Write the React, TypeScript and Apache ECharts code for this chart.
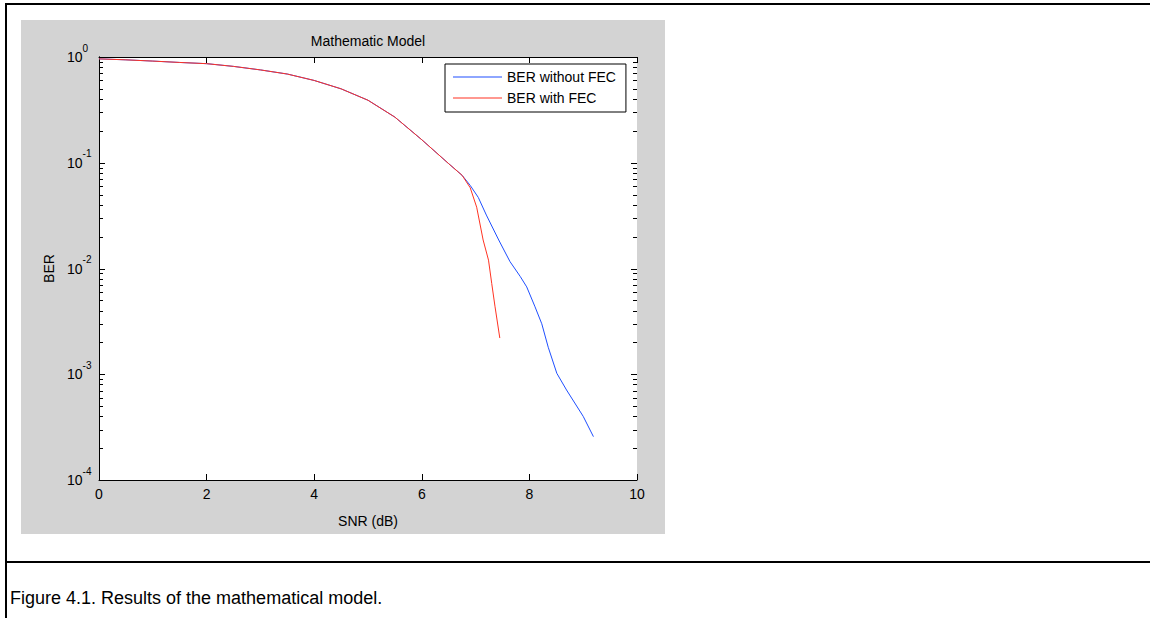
import React, { useEffect, useRef } from "react";
import * as echarts from "echarts";

// SNR (dB) and BER values
const snrWithout = [0, 0.5, 1.0, 1.5, 2.0, 2.5, 3.0, 3.5, 4.0, 4.5, 5.0, 5.5, 6.0, 6.5, 6.75, 6.9, 7.05, 7.2, 7.43, 7.64, 7.83, 7.95, 8.1, 8.23, 8.35, 8.51, 8.69, 9.0, 9.19];
const berWithout = [0.96, 0.94, 0.915, 0.888, 0.865, 0.815, 0.755, 0.69, 0.6, 0.5, 0.39, 0.27, 0.165, 0.098, 0.076, 0.061, 0.047, 0.032, 0.0186, 0.0116, 0.0084, 0.0067, 0.0044, 0.003, 0.0018, 0.00102, 0.00071, 0.0004, 0.000257];
const snrWith = [0, 0.5, 1.0, 1.5, 2.0, 2.5, 3.0, 3.5, 4.0, 4.5, 5.0, 5.5, 6.0, 6.5, 6.75, 6.9, 7.02, 7.14, 7.24, 7.3, 7.36, 7.45];
const berWith = [0.96, 0.94, 0.915, 0.888, 0.865, 0.815, 0.755, 0.69, 0.6, 0.5, 0.39, 0.27, 0.165, 0.098, 0.076, 0.058, 0.038, 0.0186, 0.012, 0.0072, 0.0044, 0.0022];

const seriesNames = ["BER without FEC", "BER with FEC"];
const yMajorTicks = [1e-4, 1e-3, 1e-2, 1e-1, 1];
const yMinorTicks = [
  2e-4, 3e-4, 4e-4, 5e-4, 6e-4, 7e-4, 8e-4, 9e-4,
  2e-3, 3e-3, 4e-3, 5e-3, 6e-3, 7e-3, 8e-3, 9e-3,
  2e-2, 3e-2, 4e-2, 5e-2, 6e-2, 7e-2, 8e-2, 9e-2,
  2e-1, 3e-1, 4e-1, 5e-1, 6e-1, 7e-1, 8e-1, 9e-1,
];
const xMin = 0;
const xMax = 10;
const titleText = "Mathematic Model";
const xName = "SNR (dB)";
const yName = "BER";
const captionText = "Figure 4.1. Results of the mathematical model.";

const FONT = "'Liberation Sans', Arial, Helvetica, sans-serif";

export default function App() {
  const ref = useRef<HTMLDivElement>(null);
  useEffect(() => {
    const chart = echarts.init(ref.current as HTMLDivElement, null, { renderer: "svg" });
    const pairs = (xs: number[], ys: number[]) => xs.map((x, i) => [x, ys[i]]);
    const tickLine = { lineStyle: { color: "#000", width: 1 } };
    const tickData = [
      ...yMajorTicks.map((v) => [xMin, v, 6]),
      ...yMinorTicks.map((v) => [xMin, v, 4]),
    ];
    const yBase = (position: string, labels: boolean) => ({
      type: "log",
      logBase: 10,
      min: 1e-4,
      max: 1,
      position,
      axisLine: { show: true, lineStyle: { color: "#000", width: 1 } },
      axisTick: { show: false },
      splitLine: { show: false },
      minorTick: { show: false },
      axisLabel: labels
        ? {
            show: true,
            customValues: yMajorTicks,
            align: "left",
            margin: 32,
            color: "#000",
            fontSize: 14,
            fontFamily: FONT,
            formatter: (v: number) => `{b|10}{s|${Math.round(Math.log10(v))}}`,
            rich: {
              b: { fontSize: 14, lineHeight: 28, fontFamily: FONT, color: "#000" },
              s: { fontSize: 10, lineHeight: 10, verticalAlign: "top", fontFamily: FONT, color: "#000" },
            },
          }
        : { show: false },
    });
    const option: any = {
      animation: false,
      backgroundColor: "#fff",
      textStyle: { fontFamily: FONT },
      graphic: [
        { type: "rect", z: -100, shape: { x: 21, y: 20, width: 644, height: 514 }, style: { fill: "#d3d3d3" } },
        { type: "line", shape: { x1: 5, y1: 4, x2: 1150, y2: 4 }, style: { stroke: "#000", lineWidth: 2 } },
        { type: "line", shape: { x1: 6, y1: 3, x2: 6, y2: 618 }, style: { stroke: "#000", lineWidth: 2 } },
        { type: "line", shape: { x1: 5, y1: 562, x2: 1150, y2: 562 }, style: { stroke: "#000", lineWidth: 2 } },
        {
          type: "text",
          x: 10,
          y: 598,
          style: { text: captionText, fill: "#000", font: `18px ${FONT}`, verticalAlign: "middle", align: "left" },
        },
      ],
      title: {
        text: titleText,
        left: 368,
        top: 34,
        textAlign: "center",
        padding: 0,
        textStyle: { fontSize: 14, fontWeight: "normal", color: "#000", fontFamily: FONT },
      },
      legend: {
        data: seriesNames,
        orient: "vertical",
        left: 445,
        top: 64,
        padding: [6, 10, 7, 8],
        itemGap: 7,
        itemWidth: 49,
        itemHeight: 1,
        icon: "rect",
        backgroundColor: "#fff",
        borderColor: "#000",
        borderWidth: 1,
        borderRadius: 0,
        textStyle: { fontSize: 14, lineHeight: 14, color: "#000", fontFamily: FONT },
      },
      grid: {
        left: 99,
        top: 57,
        width: 538,
        height: 423,
        show: true,
        backgroundColor: "#fff",
        borderWidth: 0,
        containLabel: false,
      },
      xAxis: [
        {
          type: "value",
          min: xMin,
          max: xMax,
          interval: 2,
          position: "bottom",
          name: xName,
          nameLocation: "middle",
          nameGap: 34,
          nameTextStyle: { fontSize: 14, color: "#000", fontFamily: FONT },
          axisLine: { show: true, lineStyle: { color: "#000", width: 1 } },
          axisTick: { show: true, inside: true, length: 6, ...tickLine },
          splitLine: { show: false },
          axisLabel: { show: true, margin: 7, color: "#000", fontSize: 14, fontFamily: FONT },
        },
        {
          type: "value",
          min: xMin,
          max: xMax,
          interval: 2,
          position: "top",
          axisLine: { show: true, lineStyle: { color: "#000", width: 1 } },
          axisTick: { show: true, inside: true, length: 6, ...tickLine },
          splitLine: { show: false },
          axisLabel: { show: false },
        },
      ],
      yAxis: [
        {
          ...yBase("left", true),
          name: yName,
          nameLocation: "middle",
          nameGap: 43,
          nameTextStyle: { fontSize: 14, color: "#000", fontFamily: FONT },
        },
        yBase("right", false),
      ],
      series: [
        {
          name: seriesNames[0],
          type: "line",
          xAxisIndex: 0,
          yAxisIndex: 0,
          data: pairs(snrWithout, berWithout),
          symbol: "none",
          lineStyle: { color: "#1f4fff", width: 1 },
          itemStyle: { color: "#1f4fff" },
        },
        {
          name: seriesNames[1],
          type: "line",
          xAxisIndex: 0,
          yAxisIndex: 0,
          data: pairs(snrWith, berWith),
          symbol: "none",
          lineStyle: { color: "#ff3322", width: 1 },
          itemStyle: { color: "#ff3322" },
        },
        {
          name: "yTicks",
          type: "custom",
          xAxisIndex: 0,
          yAxisIndex: 0,
          silent: true,
          clip: false,
          z: 5,
          encode: { x: 0, y: 1 },
          data: tickData,
          renderItem: (_params: any, api: any) => {
            const v = api.value(1);
            const len = api.value(2);
            const p = api.coord([xMin, v]);
            const q = api.coord([xMax, v]);
            const y = Math.round(p[1]) + 0.5;
            const xl = Math.round(p[0]);
            const xr = Math.round(q[0]);
            return {
              type: "group",
              children: [
                { type: "line", shape: { x1: xl, y1: y, x2: xl + len, y2: y }, style: { stroke: "#000", lineWidth: 1 } },
                { type: "line", shape: { x1: xr - len, y1: y, x2: xr, y2: y }, style: { stroke: "#000", lineWidth: 1 } },
              ],
            };
          },
        },
      ],
    };
    chart.setOption(option);
    return () => chart.dispose();
  }, []);
  return (
    <div
      ref={ref}
      style={{ position: "fixed", left: 0, top: 0, width: 1150, height: 618, background: "#fff" }}
    />
  );
}
